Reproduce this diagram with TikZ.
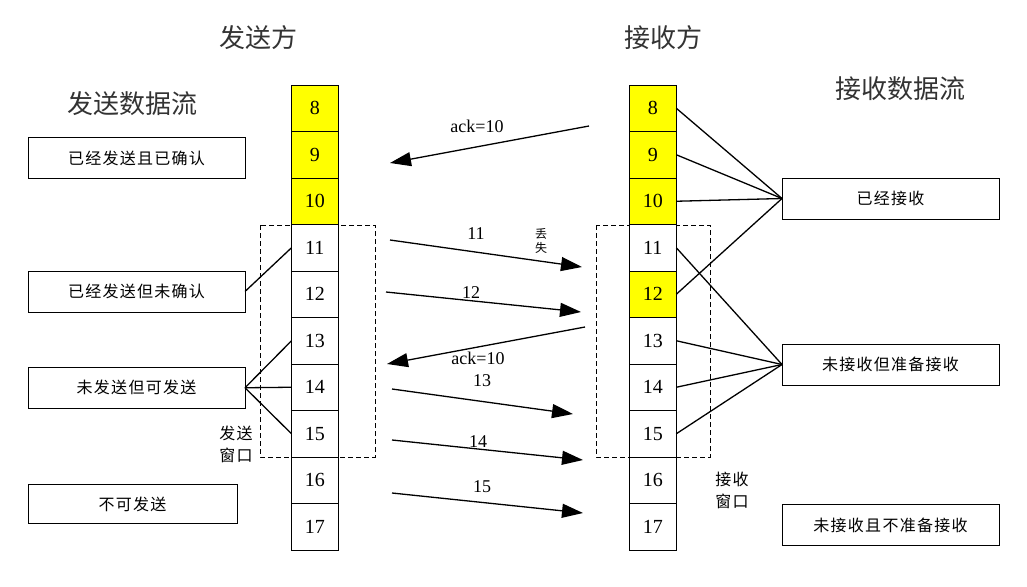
\documentclass[tikz,border=0pt]{standalone}
\usepackage{fontspec}
\setmainfont{Liberation Serif}
\newfontfamily\cjk{Noto Sans CJK SC}
\newfontfamily\cjks{Noto Sans CJK SC}[LetterSpace=8]
\usetikzlibrary{arrows.meta}
\definecolor{cellyellow}{RGB}{255,255,0}
\tikzset{
  cell/.style={draw, line width=0.9pt, minimum width=46.5pt, minimum height=46.5pt, inner sep=0pt, outer sep=0pt, font=\fontsize{20}{22}\selectfont},
  catbox/.style={draw, line width=0.9pt, inner sep=0pt, outer sep=0pt, minimum width=217pt, minimum height=41pt, font=\cjks\fontsize{16}{18}\selectfont},
  title/.style={font=\cjk\fontsize{26}{30}\selectfont, text=black!80, inner sep=0pt},
  msg/.style={line width=1.3pt, -{Triangle[length=21pt,width=14pt]}},
  lbl/.style={font=\fontsize{18}{20}\selectfont, inner sep=0pt},
  link/.style={line width=1.3pt},
  win/.style={line width=0.8pt, dash pattern=on 5pt off 3pt},
  winlbl/.style={font=\cjks\fontsize{16}{22}\selectfont, align=center, inner sep=0pt},
  lost/.style={font=\cjk\fontsize{12}{14}\selectfont, align=center, inner sep=0pt}
}
\begin{document}
\begin{tikzpicture}[x=1pt,y=-1pt]
\useasboundingbox[fill=white] (0,0) rectangle (1027,586);

% windows
\draw[win] (260,225) rectangle (375,457);
\draw[win] (596,225) rectangle (710,457);

% cells
\foreach \i/\f in {8/cellyellow,9/cellyellow,10/cellyellow,11/white,12/white,13/white,14/white,15/white,16/white,17/white}
  \node[cell, fill=\f] (s\i) at (314.75, {85+46.5*(\i-8)+23.25}) {\i};
\foreach \i/\f in {8/cellyellow,9/cellyellow,10/cellyellow,11/white,12/cellyellow,13/white,14/white,15/white,16/white,17/white}
  \node[cell, fill=\f, minimum width=47pt] (r\i) at (652.8, {85+46.5*(\i-8)+23.25}) {\i};

% titles
\node[title] (t1) at (258,38) {发送方};
\node[title] (t2) at (663,38) {接收方};
\node[title] (t3) at (132,104) {发送数据流};
\node[title] (t4) at (900,89) {接收数据流};

% left category boxes
\node[catbox] (b1) at (136.5,158) {已经发送且已确认};
\node[catbox] (b2) at (136.5,291.5) {已经发送但未确认};
\node[catbox] (b3) at (136.5,387.75) {未发送但可发送};
\node[catbox, minimum width=209pt, minimum height=39pt] (b4) at (132.5,504) {不可发送};

% right category boxes
\node[catbox] (c1) at (890.5,198.5) {已经接收};
\node[catbox] (c2) at (890.5,364.5) {未接收但准备接收};
\node[catbox] (c3) at (890.5,525) {未接收且不准备接收};

% links
\draw[link] (b2.east) -- (s11.west);
\foreach \i in {13,14,15} \draw[link] (b3.east) -- (s\i.west);
\foreach \i in {8,9,10,12} \draw[link] (c1.west) -- (r\i.east);
\foreach \i in {11,13,14,15} \draw[link] (c2.west) -- (r\i.east);

% window labels
\node[winlbl] (sw) at (236,444) {发送\\窗口};
\node[winlbl] (rw) at (732,490) {接收\\窗口};

% messages
\coordinate (a1s) at (589,126); \coordinate (a1e) at (390,163);
\coordinate (m11s) at (390,240); \coordinate (m11e) at (582,267);
\coordinate (m12s) at (386,292); \coordinate (m12e) at (581,312);
\coordinate (a2s) at (585,327); \coordinate (a2e) at (387,364);
\coordinate (m13s) at (392,389); \coordinate (m13e) at (573,414);
\coordinate (m14s) at (392,440); \coordinate (m14e) at (583,460);
\coordinate (m15s) at (392,493); \coordinate (m15e) at (583,513);
\draw[msg] (a1s) -- (a1e);
\draw[msg] (m11s) -- (m11e);
\draw[msg] (m12s) -- (m12e);
\draw[msg] (a2s) -- (a2e);
\draw[msg] (m13s) -- (m13e);
\draw[msg] (m14s) -- (m14e);
\draw[msg] (m15s) -- (m15e);

% message labels
\node[lbl] (la1) at (477,126) {ack=10};
\node[lbl] (l11) at (476,234) {11};
\node[lbl] (l12) at (471,293) {12};
\node[lbl] (la2) at (478,358) {ack=10};
\node[lbl] (l13) at (482,381) {13};
\node[lbl] (l14) at (478,442) {14};
\node[lbl] (l15) at (482,487) {15};
\node[lost] (lost) at (541,241) {丢\\失};
\end{tikzpicture}
\end{document}
